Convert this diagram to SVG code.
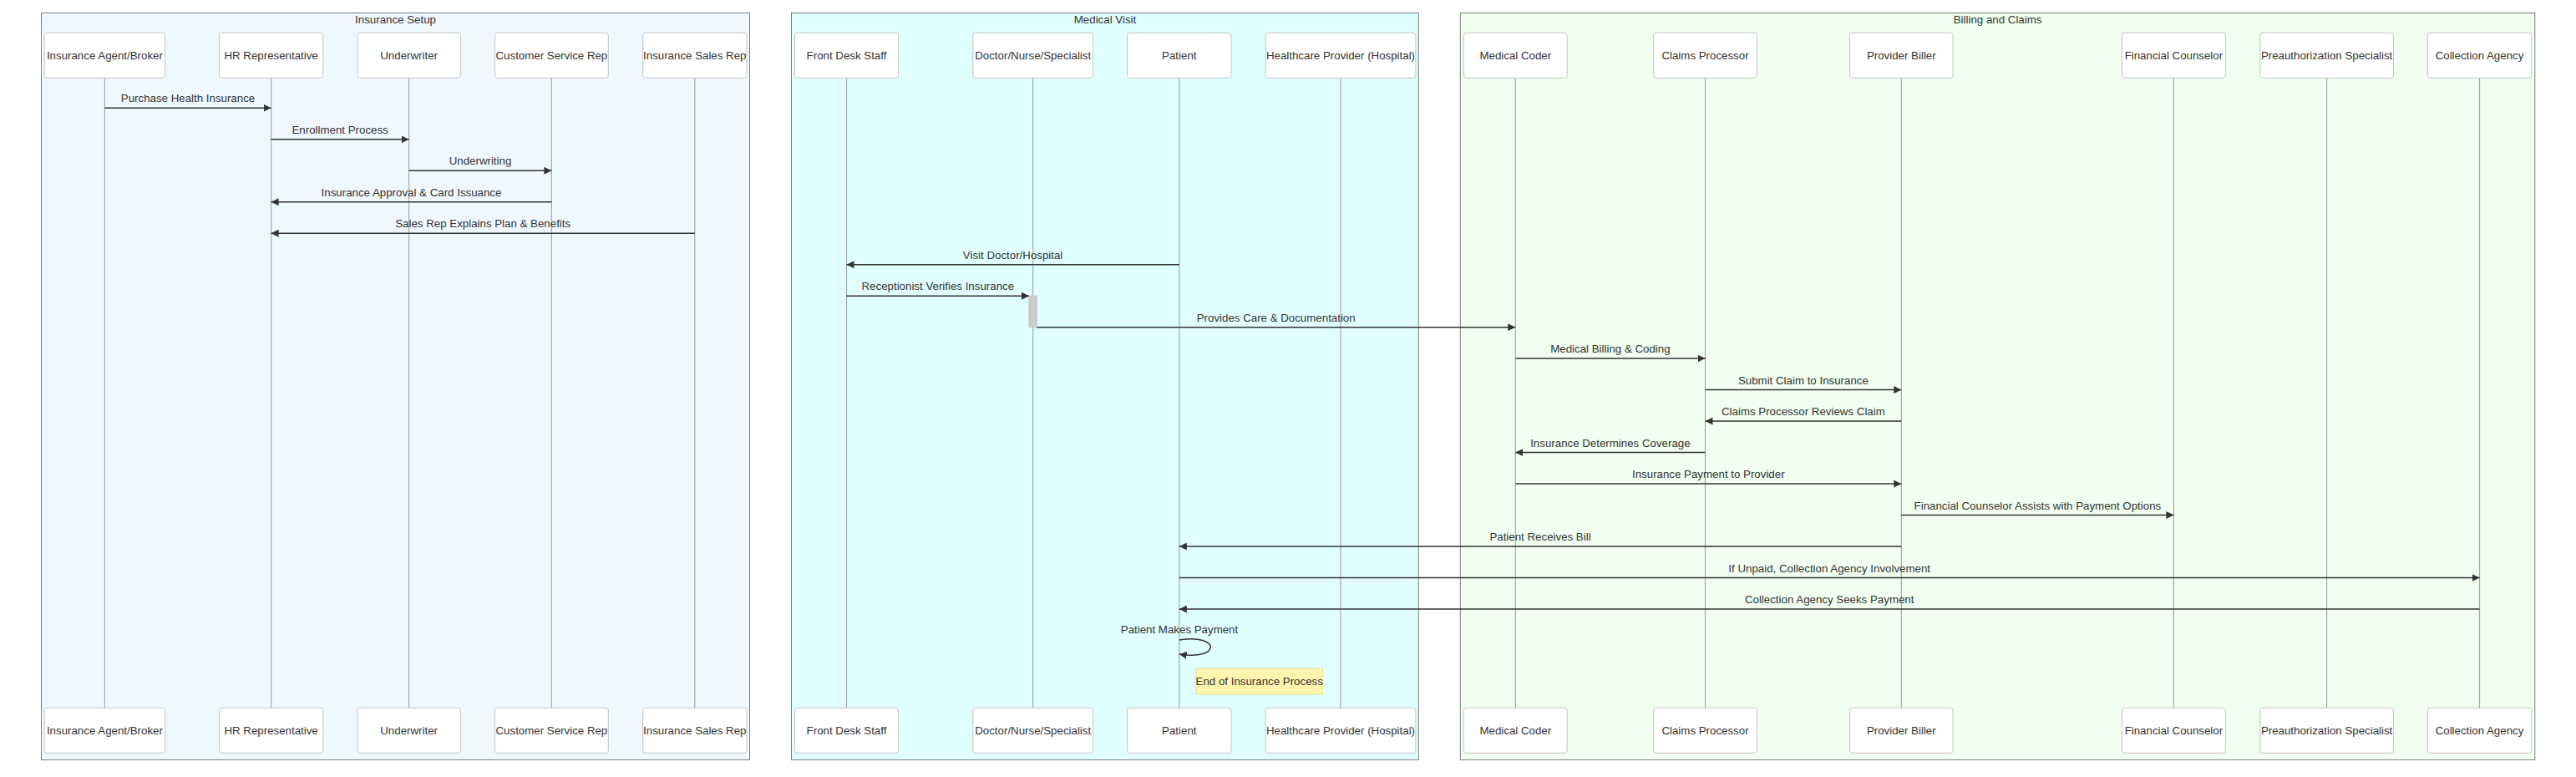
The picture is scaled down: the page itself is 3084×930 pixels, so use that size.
<svg xmlns="http://www.w3.org/2000/svg" width="3084" height="930" viewBox="0 0 3084 930">
<style>
text{font-family:"Liberation Sans",Arial,Helvetica,sans-serif;font-size:13.3px;fill:#333;text-anchor:middle}
.grp{stroke:rgba(0,0,0,0.5);stroke-width:1}
.actor{fill:#fff;stroke:#c4c4c4;stroke-width:1}
.life{stroke:#a8a8a8;stroke-width:1.2}
.msg{stroke:#333;stroke-width:1.5;fill:none}
</style>
<defs>
<marker id="arrow" viewBox="0 0 10 10" refX="10" refY="5" markerWidth="9" markerHeight="9" markerUnits="userSpaceOnUse" orient="auto"><path d="M0,0 L10,5 L0,10 z" fill="#333"/></marker>
</defs>
<rect width="3084" height="930" fill="#fff"/>
<g id="boxes">
<g id="box-insurance-setup"><rect class="grp" x="49.5" y="15.5" width="848" height="894" fill="#f0f8ff"/><text x="473.5" y="27.5">Insurance Setup</text></g>
<g id="box-medical-visit"><rect class="grp" x="947.5" y="15.5" width="750.8" height="894" fill="#e0ffff"/><text x="1323" y="27.5">Medical Visit</text></g>
<g id="box-billing"><rect class="grp" x="1748.3" y="15.5" width="1286.5" height="894" fill="#f0fff0"/><text x="2391.6" y="27.5">Billing and Claims</text></g>
</g>
<g id="lifelines">
<line class="life" x1="125.4" y1="93.3" x2="125.4" y2="847.3"/>
<line class="life" x1="324.6" y1="93.3" x2="324.6" y2="847.3"/>
<line class="life" x1="489.6" y1="93.3" x2="489.6" y2="847.3"/>
<line class="life" x1="660.4" y1="93.3" x2="660.4" y2="847.3"/>
<line class="life" x1="831.8" y1="93.3" x2="831.8" y2="847.3"/>
<line class="life" x1="1013.5" y1="93.3" x2="1013.5" y2="847.3"/>
<line class="life" x1="1236.7" y1="93.3" x2="1236.7" y2="847.3"/>
<line class="life" x1="1411.8" y1="93.3" x2="1411.8" y2="847.3"/>
<line class="life" x1="1605" y1="93.3" x2="1605" y2="847.3"/>
<line class="life" x1="1814.3" y1="93.3" x2="1814.3" y2="847.3"/>
<line class="life" x1="2041.5" y1="93.3" x2="2041.5" y2="847.3"/>
<line class="life" x1="2276.3" y1="93.3" x2="2276.3" y2="847.3"/>
<line class="life" x1="2602.4" y1="93.3" x2="2602.4" y2="847.3"/>
<line class="life" x1="2785.6" y1="93.3" x2="2785.6" y2="847.3"/>
<line class="life" x1="2968.5" y1="93.3" x2="2968.5" y2="847.3"/>
</g>
<g id="agent"><rect class="actor" x="53.3" y="39.3" width="144.2" height="54" rx="3"/><text x="125.4" y="71">Insurance Agent/Broker</text><rect class="actor" x="53.3" y="847.3" width="144.2" height="54" rx="3"/><text x="125.4" y="879">Insurance Agent/Broker</text></g>
<g id="hr"><rect class="actor" x="262.5" y="39.3" width="124.2" height="54" rx="3"/><text x="324.6" y="71">HR Representative</text><rect class="actor" x="262.5" y="847.3" width="124.2" height="54" rx="3"/><text x="324.6" y="879">HR Representative</text></g>
<g id="underwriter"><rect class="actor" x="427.8" y="39.3" width="123.6" height="54" rx="3"/><text x="489.6" y="71">Underwriter</text><rect class="actor" x="427.8" y="847.3" width="123.6" height="54" rx="3"/><text x="489.6" y="879">Underwriter</text></g>
<g id="csr"><rect class="actor" x="592.6" y="39.3" width="135.7" height="54" rx="3"/><text x="660.4" y="71">Customer Service Rep</text><rect class="actor" x="592.6" y="847.3" width="135.7" height="54" rx="3"/><text x="660.4" y="879">Customer Service Rep</text></g>
<g id="salesrep"><rect class="actor" x="769.7" y="39.3" width="124.2" height="54" rx="3"/><text x="831.8" y="71">Insurance Sales Rep</text><rect class="actor" x="769.7" y="847.3" width="124.2" height="54" rx="3"/><text x="831.8" y="879">Insurance Sales Rep</text></g>
<g id="frontdesk"><rect class="actor" x="951.5" y="39.3" width="124" height="54" rx="3"/><text x="1013.5" y="71">Front Desk Staff</text><rect class="actor" x="951.5" y="847.3" width="124" height="54" rx="3"/><text x="1013.5" y="879">Front Desk Staff</text></g>
<g id="doctor"><rect class="actor" x="1164.8" y="39.3" width="143.8" height="54" rx="3"/><text x="1236.7" y="71">Doctor/Nurse/Specialist</text><rect class="actor" x="1164.8" y="847.3" width="143.8" height="54" rx="3"/><text x="1236.7" y="879">Doctor/Nurse/Specialist</text></g>
<g id="patient"><rect class="actor" x="1349.5" y="39.3" width="124.5" height="54" rx="3"/><text x="1411.8" y="71">Patient</text><rect class="actor" x="1349.5" y="847.3" width="124.5" height="54" rx="3"/><text x="1411.8" y="879">Patient</text></g>
<g id="hospital"><rect class="actor" x="1515.1" y="39.3" width="179.8" height="54" rx="3"/><text x="1605" y="71">Healthcare Provider (Hospital)</text><rect class="actor" x="1515.1" y="847.3" width="179.8" height="54" rx="3"/><text x="1605" y="879">Healthcare Provider (Hospital)</text></g>
<g id="coder"><rect class="actor" x="1752.5" y="39.3" width="123.6" height="54" rx="3"/><text x="1814.3" y="71">Medical Coder</text><rect class="actor" x="1752.5" y="847.3" width="123.6" height="54" rx="3"/><text x="1814.3" y="879">Medical Coder</text></g>
<g id="claims"><rect class="actor" x="1979.7" y="39.3" width="123.6" height="54" rx="3"/><text x="2041.5" y="71">Claims Processor</text><rect class="actor" x="1979.7" y="847.3" width="123.6" height="54" rx="3"/><text x="2041.5" y="879">Claims Processor</text></g>
<g id="biller"><rect class="actor" x="2214.5" y="39.3" width="123.6" height="54" rx="3"/><text x="2276.3" y="71">Provider Biller</text><rect class="actor" x="2214.5" y="847.3" width="123.6" height="54" rx="3"/><text x="2276.3" y="879">Provider Biller</text></g>
<g id="fincounselor"><rect class="actor" x="2540.5" y="39.3" width="123.8" height="54" rx="3"/><text x="2602.4" y="71">Financial Counselor</text><rect class="actor" x="2540.5" y="847.3" width="123.8" height="54" rx="3"/><text x="2602.4" y="879">Financial Counselor</text></g>
<g id="preauth"><rect class="actor" x="2705.8" y="39.3" width="159.6" height="54" rx="3"/><text x="2785.6" y="71">Preauthorization Specialist</text><rect class="actor" x="2705.8" y="847.3" width="159.6" height="54" rx="3"/><text x="2785.6" y="879">Preauthorization Specialist</text></g>
<g id="collection"><rect class="actor" x="2906.4" y="39.3" width="124.2" height="54" rx="3"/><text x="2968.5" y="71">Collection Agency</text><rect class="actor" x="2906.4" y="847.3" width="124.2" height="54" rx="3"/><text x="2968.5" y="879">Collection Agency</text></g>
<g id="activation"><rect x="1232" y="354.2" width="9.2" height="37.5" fill="#cccccc" stroke="#c2c2c2" stroke-width="1"/></g>
<g id="connectors">
<line class="msg" x1="125.4" y1="129.3" x2="324.6" y2="129.3" marker-end="url(#arrow)"/><text x="225" y="122.3">Purchase Health Insurance</text>
<line class="msg" x1="324.6" y1="166.8" x2="489.6" y2="166.8" marker-end="url(#arrow)"/><text x="407.1" y="159.8">Enrollment Process</text>
<line class="msg" x1="489.6" y1="204.3" x2="660.4" y2="204.3" marker-end="url(#arrow)"/><text x="575" y="197.3">Underwriting</text>
<line class="msg" x1="660.4" y1="241.7" x2="324.6" y2="241.7" marker-end="url(#arrow)"/><text x="492.5" y="234.7">Insurance Approval &amp; Card Issuance</text>
<line class="msg" x1="831.8" y1="279.2" x2="324.6" y2="279.2" marker-end="url(#arrow)"/><text x="578.2" y="272.2">Sales Rep Explains Plan &amp; Benefits</text>
<line class="msg" x1="1411.8" y1="316.7" x2="1013.5" y2="316.7" marker-end="url(#arrow)"/><text x="1212.6" y="309.7">Visit Doctor/Hospital</text>
<line class="msg" x1="1013.5" y1="354.2" x2="1232" y2="354.2" marker-end="url(#arrow)"/><text x="1122.8" y="347.2">Receptionist Verifies Insurance</text>
<line class="msg" x1="1241.2" y1="391.7" x2="1814.3" y2="391.7" marker-end="url(#arrow)"/><text x="1527.7" y="384.7">Provides Care &amp; Documentation</text>
<line class="msg" x1="1814.3" y1="429.1" x2="2041.5" y2="429.1" marker-end="url(#arrow)"/><text x="1927.9" y="422.1">Medical Billing &amp; Coding</text>
<line class="msg" x1="2041.5" y1="466.6" x2="2276.3" y2="466.6" marker-end="url(#arrow)"/><text x="2158.9" y="459.6">Submit Claim to Insurance</text>
<line class="msg" x1="2276.3" y1="504.1" x2="2041.5" y2="504.1" marker-end="url(#arrow)"/><text x="2158.9" y="497.1">Claims Processor Reviews Claim</text>
<line class="msg" x1="2041.5" y1="541.6" x2="1814.3" y2="541.6" marker-end="url(#arrow)"/><text x="1927.9" y="534.6">Insurance Determines Coverage</text>
<line class="msg" x1="1814.3" y1="579.1" x2="2276.3" y2="579.1" marker-end="url(#arrow)"/><text x="2045.3" y="572.1">Insurance Payment to Provider</text>
<line class="msg" x1="2276.3" y1="616.5" x2="2602.4" y2="616.5" marker-end="url(#arrow)"/><text x="2439.4" y="609.5">Financial Counselor Assists with Payment Options</text>
<line class="msg" x1="2276.3" y1="654" x2="1411.8" y2="654" marker-end="url(#arrow)"/><text x="1844" y="647">Patient Receives Bill</text>
<line class="msg" x1="1411.8" y1="691.5" x2="2968.5" y2="691.5" marker-end="url(#arrow)"/><text x="2190.2" y="684.5">If Unpaid, Collection Agency Involvement</text>
<line class="msg" x1="2968.5" y1="729" x2="1411.8" y2="729" marker-end="url(#arrow)"/><text x="2190.2" y="722">Collection Agency Seeks Payment</text>
<path class="msg" d="M1411.8,766 C1461.8,758 1461.8,791 1411.8,783" marker-end="url(#arrow)"/><text x="1412" y="758">Patient Makes Payment</text>
</g>
<g id="note"><rect x="1432" y="800" width="151.3" height="31" fill="#fff5ad" stroke="#e8dc8c" stroke-width="1"/><text x="1507.7" y="820">End of Insurance Process</text></g>
</svg>
